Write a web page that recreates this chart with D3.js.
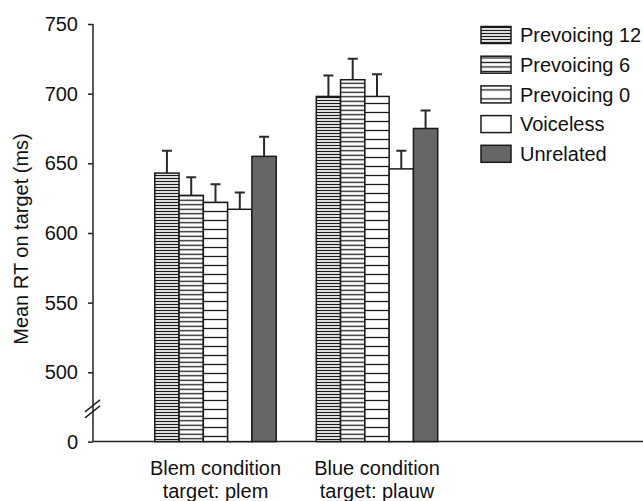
<!DOCTYPE html>
<html lang="en">
<head>
  <meta charset="UTF-8">
  <script src="https://d3js.org/d3.v7.min.js"></script>
  <style>
    body { margin: 0; background: #fff; }
    svg { display: block; }
    text { font-family: "Liberation Sans", Arial, sans-serif; fill: #111; }
    .axis path, .axis line { stroke: #222; stroke-width: 1.5px; }
    .axis text { font-size: 20px; }
    .bar { stroke: #1a1a1a; stroke-width: 1.5px; }
    .err { stroke: #2a2a2a; stroke-width: 2px; fill: none; }
  </style>
</head>
<body>
  <div id="chart"></div>
  <script>
    // data
    const groupLine1 = ['Blem condition', 'Blue condition'];
    const groupLine2 = ['target: plem', 'target: plauw'];
    const conditions = ['Prevoicing 12', 'Prevoicing 6', 'Prevoicing 0', 'Voiceless', 'Unrelated'];
    const blemMeans = [643, 627, 622, 617, 655];
    const blemErrors = [16, 13, 13, 12, 14];
    const blueMeans = [698, 710, 698, 646, 675];
    const blueErrors = [15, 15, 16, 13, 13];
    const yTicks = [0, 500, 550, 600, 650, 700, 750];

    const width = 643, height = 501;

    const svg = d3.select('#chart').append('svg')
      .attr('width', width).attr('height', height);

    // hatch patterns: horizontal lines, spacing per condition
    const spacing = [3, 4.5, 9];
    const defs = svg.append('defs');
    spacing.forEach((s, i) => {
      const p = defs.append('pattern')
        .attr('id', 'hatch' + i)
        .attr('patternUnits', 'userSpaceOnUse')
        .attr('width', 10).attr('height', s);
      p.append('rect').attr('width', 10).attr('height', s).attr('fill', '#fff');
      p.append('line')
        .attr('x1', 0).attr('x2', 10)
        .attr('y1', s / 2).attr('y2', s / 2)
        .attr('stroke', '#1a1a1a').attr('stroke-width', 1.3);
    });
    const fills = ['url(#hatch0)', 'url(#hatch1)', 'url(#hatch2)', '#fff', '#666'];

    // broken axis: 0 sits one step below 500
    const y = d3.scaleLinear()
      .domain([0, 500, 750])
      .range([441.6, 372.3, 24]);

    const x0 = d3.scaleBand()
      .domain(groupLine1)
      .range([134.75, 457.75])
      .paddingInner(0.248)
      .paddingOuter(0.124);

    const x1 = d3.scaleBand()
      .domain(conditions)
      .range([0, x0.bandwidth()]);

    const table = groupLine1.map((g, gi) => ({
      group: g,
      bars: conditions.map((c, ci) => ({
        cond: c,
        idx: ci,
        mean: gi === 0 ? blemMeans[ci] : blueMeans[ci],
        err: gi === 0 ? blemErrors[ci] : blueErrors[ci]
      }))
    }));

    // axes
    const axisX = 93;
    const yAxis = svg.append('g')
      .attr('class', 'axis')
      .attr('transform', `translate(${axisX},0)`)
      .call(d3.axisLeft(y).tickValues(yTicks).tickSize(5).tickPadding(10).tickSizeOuter(0));
    yAxis.select('.domain').attr('d', `M0,${y(750)}V${y(0)}`);

    svg.append('line')
      .attr('x1', axisX).attr('x2', width)
      .attr('y1', y(0)).attr('y2', y(0))
      .attr('stroke', '#222').attr('stroke-width', 1.5);

    // break marks
    const bk = svg.append('g').attr('transform', `translate(${axisX},${(y(0) + y(500)) / 2 + 2})`);
    [-3, 3].forEach(dy => {
      bk.append('line')
        .attr('x1', -8).attr('y1', dy + 6)
        .attr('x2', 7).attr('y2', dy - 6)
        .attr('stroke', '#222').attr('stroke-width', 1.5);
    });

    // bars
    const groups = svg.selectAll('g.group')
      .data(table)
      .enter().append('g')
      .attr('class', 'group')
      .attr('transform', d => `translate(${x0(d.group)},0)`);

    groups.selectAll('rect.bar')
      .data(d => d.bars)
      .enter().append('rect')
      .attr('class', 'bar')
      .attr('x', d => x1(d.cond))
      .attr('width', x1.bandwidth())
      .attr('y', d => y(d.mean))
      .attr('height', d => y(0) - y(d.mean))
      .attr('fill', d => fills[d.idx]);

    // error bars (upper only)
    groups.selectAll('path.err')
      .data(d => d.bars)
      .enter().append('path')
      .attr('class', 'err')
      .attr('d', d => {
        const cx = x1(d.cond) + x1.bandwidth() / 2;
        const top = y(d.mean + d.err);
        return `M${cx},${y(d.mean)}V${top}M${cx - 5},${top}H${cx + 5}`;
      });

    // group labels
    const lab = svg.selectAll('text.glabel')
      .data(groupLine1)
      .enter().append('text')
      .attr('class', 'glabel')
      .attr('text-anchor', 'middle')
      .attr('font-size', 20)
      .attr('x', d => x0(d) + x0.bandwidth() / 2)
      .attr('y', 475);
    lab.append('tspan').text(d => d);
    lab.append('tspan')
      .attr('x', d => x0(d) + x0.bandwidth() / 2)
      .attr('dy', 23)
      .text((d, i) => groupLine2[i]);

    // y label
    svg.append('text')
      .attr('transform', 'translate(28,239) rotate(-90)')
      .attr('text-anchor', 'middle')
      .attr('font-size', 20)
      .text('Mean RT on target (ms)');

    // legend
    const legend = svg.selectAll('g.legend')
      .data(conditions)
      .enter().append('g')
      .attr('class', 'legend')
      .attr('transform', (d, i) => `translate(481,${35 + i * 29.7})`);

    legend.append('rect')
      .attr('class', 'bar')
      .attr('x', 0).attr('y', -8.5)
      .attr('width', 30).attr('height', 17)
      .attr('fill', (d, i) => fills[i]);

    legend.append('text')
      .attr('x', 39)
      .attr('dy', '0.36em')
      .attr('font-size', 20)
      .text(d => d);
  </script>
</body>
</html>
